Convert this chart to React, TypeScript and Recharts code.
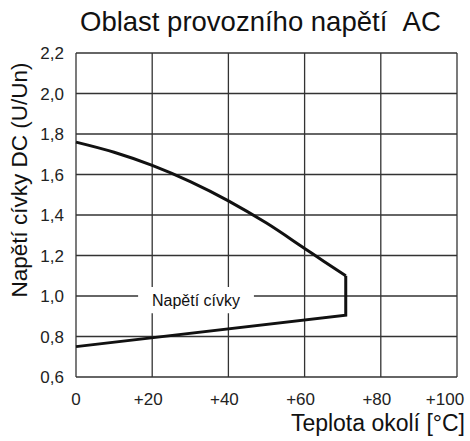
import { LineChart, Line, XAxis, YAxis, CartesianGrid, ReferenceArea, Label } from "recharts"

// teplota okolí [°C]
const teplota = [0, 10, 20, 30, 40, 50, 60, 65, 70.8, 70.8, 0]
// horní hranice napětí cívky (U/Un)
const horni = [1.76, 1.71, 1.645, 1.565, 1.47, 1.36, 1.235, 1.172, 1.1, null, null]
// svislý úsek a dolní hranice
const dolni = [null, null, null, null, null, null, null, null, 1.1, 0.905, 0.75]

const xTicks = [0, 20, 40, 60, 80, 100]
const yTicks = [0.6, 0.8, 1.0, 1.2, 1.4, 1.6, 1.8, 2.0, 2.2]

const data = teplota.map((t, i) => ({ t, horni: horni[i], dolni: dolni[i] }))

const FONT = "'Liberation Sans', Arial, sans-serif"

const XTick = (props: any) => {
  const { x, y, payload } = props
  const v = payload.value as number
  const label = v === 0 ? "0" : "+" + v
  const dx = v === 0 ? 0 : v === 100 ? -12 : -4
  return (
    <text x={x + dx} y={y + 8} dy="0.71em" textAnchor="middle" fill="#222" fontSize={17} fontFamily={FONT}>
      {label}
    </text>
  )
}

export default function App() {
  return (
    <div style={{ position: "fixed", left: 0, top: 0, width: 470, height: 441, background: "#fff", fontFamily: FONT }}>
      <div style={{ position: "absolute", left: 80, top: 5, fontSize: 27.5, lineHeight: "34px", color: "#111", whiteSpace: "nowrap" }}>
        Oblast provozního napětí&nbsp;&nbsp;AC
      </div>
      <div style={{ position: "absolute", right: 5, top: 409, fontSize: 23, lineHeight: "28px", color: "#111", whiteSpace: "nowrap" }}>
        Teplota okolí [°C]
      </div>
      <div style={{ position: "absolute", left: 20, top: 180, width: 0, height: 0, zIndex: 2 }}>
        <div
          style={{
            position: "absolute", left: 0, top: 0, transform: "translate(-50%, -50%) rotate(-90deg)",
            fontSize: 22.5, lineHeight: "26px", color: "#111", whiteSpace: "nowrap",
          }}
        >
          Napětí cívky DC (U/Un)
        </div>
      </div>
      <LineChart width={470} height={441} data={data} margin={{ top: 53, right: 13, bottom: 0, left: 0 }}>
        <CartesianGrid stroke="#333" strokeWidth={1.3} horizontalValues={yTicks} verticalValues={xTicks} />
        <XAxis
          dataKey="t"
          type="number"
          domain={[0, 100]}
          ticks={xTicks}
          height={64}
          axisLine={false}
          tickLine={false}
          tick={<XTick />}
        />
        <YAxis
          type="number"
          domain={[0.6, 2.2]}
          ticks={yTicks}
          width={76}
          axisLine={false}
          tickLine={false}
          tickMargin={6}
          tick={{ fill: "#222", fontSize: 17, fontFamily: FONT }}
          tickFormatter={(v: number) => v.toFixed(1).replace(".", ",")}
        />
        <ReferenceArea x1={16.3} x2={46.7} y1={0.915} y2={1.045} fill="#fff" fillOpacity={1} stroke="none" ifOverflow="visible">
          <Label value="Napětí cívky" position="center" style={{ fill: "#111", fontSize: 16, fontFamily: FONT }} />
        </ReferenceArea>
        <Line type="monotone" dataKey="horni" stroke="#111" strokeWidth={3} dot={false} isAnimationActive={false} />
        <Line type="linear" dataKey="dolni" stroke="#111" strokeWidth={3} dot={false} isAnimationActive={false} />
      </LineChart>
    </div>
  )
}
